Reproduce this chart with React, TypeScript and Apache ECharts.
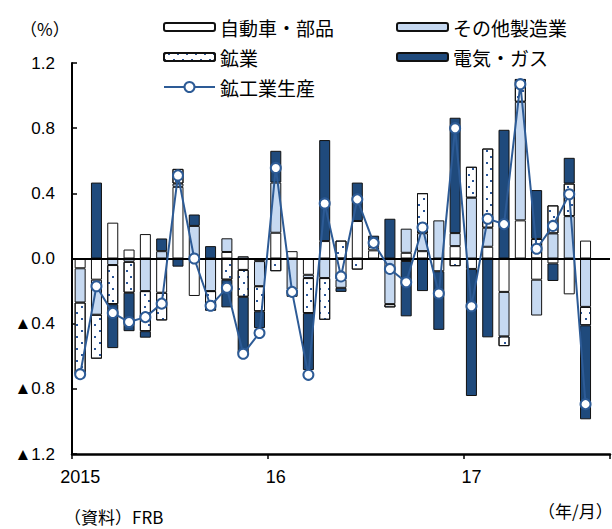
import React, { useEffect, useRef } from "react";
import * as echarts from "echarts";

const categories = [
  "2015/1", "2015/2", "2015/3", "2015/4", "2015/5", "2015/6", "2015/7", "2015/8", "2015/9", "2015/10", "2015/11", "2015/12",
  "2016/1", "2016/2", "2016/3", "2016/4", "2016/5", "2016/6", "2016/7", "2016/8", "2016/9", "2016/10", "2016/11", "2016/12",
  "2017/1", "2017/2", "2017/3", "2017/4", "2017/5", "2017/6", "2017/7", "2017/8", "",
];

const xTickLabels: Record<number, string> = { 0: "2015", 12: "16", 24: "17" };

const autoParts = [
  -0.06, -0.13, 0.22, 0.055, 0.15, -0.21, 0.44, -0.23, 0, 0.04, -0.07, -0.016,
  0.158, 0.045, -0.1, 0.107, -0.13, 0.23, 0.05, 0, 0.035, 0.045, -0.078, 0.076,
  -0.064, 0.072, -0.205, 0.234, -0.13, -0.03, -0.22, 0.11,
];
const otherMfg = [
  -0.21, -0.215, -0.04, -0.02, -0.2, 0.045, 0.02, 0.2, -0.2, 0.084, 0.014, -0.154,
  0.308, -0.19, -0.02, -0.12, -0.05, 0, 0.02, -0.28, 0.148, 0.11, 0.234, 0.08,
  0.373, 0.117, -0.273, 0.728, -0.22, 0.154, 0.26, -0.297,
];
const mining = [
  -0.44, -0.27, -0.24, -0.19, -0.246, -0.17, 0.09, 0, -0.12, -0.13, -0.165, -0.154,
  -0.078, 0, -0.215, -0.256, 0.11, -0.068, 0, -0.02, -0.015, 0.246, 0, -0.047,
  0.19, 0.486, -0.06, 0.14, 0.12, 0.172, 0.2, -0.113,
];
const utilities = [
  0, 0.466, -0.27, -0.236, -0.04, 0.078, -0.05, 0.07, 0.076, -0.17, -0.35, -0.103,
  0.195, -0.045, -0.35, 0.62, -0.025, 0.236, 0.07, 0.244, -0.34, -0.2, -0.36, 0.708,
  -0.78, -0.484, 0.79, 0, 0.3, -0.108, 0.158, -0.577,
];
const production = [
  -0.71, -0.17, -0.334, -0.39, -0.36, -0.277, 0.51, 0.0, -0.29, -0.18, -0.585, -0.457,
  0.556, -0.205, -0.714, 0.338, -0.11, 0.363, 0.096, -0.064, -0.146, 0.19, -0.215, 0.8,
  -0.293, 0.244, 0.211, 1.07, 0.06, 0.2, 0.394, -0.894,
];

const NAVY = "#1f4a7c";
const LINE = "#2d5b96";
const LIGHT = "#c6d9f1";
const NUM_FONT = "'Liberation Sans', Arial, 'Noto Sans CJK JP', sans-serif";
const JP_FONT = "'Noto Sans CJK JP', sans-serif";

const nz = (arr: number[]) => arr.map((v) => (v === 0 ? null : v));

function barSeries(name: string, data: number[], color: string, extra: any = {}) {
  return {
    name,
    type: "bar",
    stack: "total",
    data: nz(data),
    barWidth: 11,
    itemStyle: { color, borderColor: "#111", borderWidth: 1, ...extra },
    emphasis: { disabled: true },
  };
}

function legendAt(name: string, left: number, top: number, itemHeight = 8) {
  return {
    data: [name],
    left,
    top,
    padding: 0,
    itemWidth: 51,
    itemHeight,
    selectedMode: false,
    textStyle: { fontFamily: JP_FONT, fontSize: 19, color: "#000", lineHeight: 20 },
  };
}

export default function App() {
  const ref = useRef<HTMLDivElement>(null);
  useEffect(() => {
    document.body.style.margin = "0";
    const chart = echarts.init(ref.current!, null, { renderer: "svg" });
    chart.setOption({
      animation: false,
      backgroundColor: "#fff",
      grid: { left: 72, right: 2, top: 63, bottom: 75, containLabel: false, outerBoundsMode: "none" },
      legend: [
        legendAt("自動車・部品", 163, 17),
        legendAt("その他製造業", 396, 17),
        legendAt("鉱業", 163, 47),
        legendAt("電気・ガス", 396, 47),
        legendAt("鉱工業生産", 163, 77, 12.5),
      ],
      xAxis: {
        type: "category",
        data: categories,
        boundaryGap: true,
        axisLine: { show: true, onZero: false, lineStyle: { color: "#000", width: 2.5 } },
        axisTick: {
          show: true,
          interval: (i: number) => i % 12 === 0,
          length: 5,
          lineStyle: { color: "#000", width: 1.5 },
        },
        axisLabel: {
          interval: (i: number) => i % 12 === 0,
          formatter: (_v: string, i: number) => xTickLabels[i] ?? "",
          fontFamily: NUM_FONT,
          fontSize: 18,
          color: "#000",
          margin: 14,
        },
        splitLine: { show: false },
      },
      yAxis: {
        type: "value",
        min: -1.2,
        max: 1.2,
        interval: 0.4,
        axisLine: { show: true, lineStyle: { color: "#000", width: 2 } },
        axisTick: { show: true, inside: true, length: 5, lineStyle: { color: "#000", width: 1.5 } },
        axisLabel: {
          formatter: (v: number) => {
            const r = Math.round(v * 10) / 10;
            return r < 0 ? "▲" + Math.abs(r).toFixed(1) : r.toFixed(1);
          },
          fontFamily: NUM_FONT,
          fontSize: 17,
          color: "#000",
          margin: 17,
        },
        splitLine: { show: false },
      },
      series: [
        barSeries("自動車・部品", autoParts, "#ffffff"),
        barSeries("その他製造業", otherMfg, LIGHT),
        barSeries("鉱業", mining, "#ffffff", {
          decal: {
            symbol: "rect",
            symbolSize: 1,
            color: "#2a5597",
            dashArrayX: [[1.5, 6.5], [0, 4, 1.5, 2.5]],
            dashArrayY: [1.5, 3.5],
          },
        }),
        {
          ...barSeries("電気・ガス", utilities, NAVY),
          markLine: {
            silent: true,
            symbol: "none",
            label: { show: false },
            lineStyle: { color: "#000", width: 2, type: "solid" },
            data: [{ yAxis: 0 }],
          },
        },
        {
          name: "鉱工業生産",
          type: "line",
          data: production,
          z: 10,
          symbol: "circle",
          symbolSize: 10,
          showAllSymbol: true,
          lineStyle: { color: LINE, width: 2 },
          itemStyle: { color: "#ffffff", borderColor: LINE, borderWidth: 2 },
          emphasis: { disabled: true },
        },
      ],
      graphic: [
        {
          type: "text",
          left: 20,
          top: 20,
          style: { text: "（%）", font: `17px ${JP_FONT}`, fill: "#000" },
        },
        {
          type: "text",
          left: 538,
          top: 502,
          style: { text: "（年/月）", font: `17px ${JP_FONT}`, fill: "#000" },
        },
        {
          type: "text",
          left: 64,
          top: 508,
          style: { text: "（資料）FRB", font: `17px ${JP_FONT}`, fill: "#000" },
        },
      ],
    });
    return () => chart.dispose();
  }, []);
  return <div ref={ref} style={{ width: 612, height: 529 }} />;
}
